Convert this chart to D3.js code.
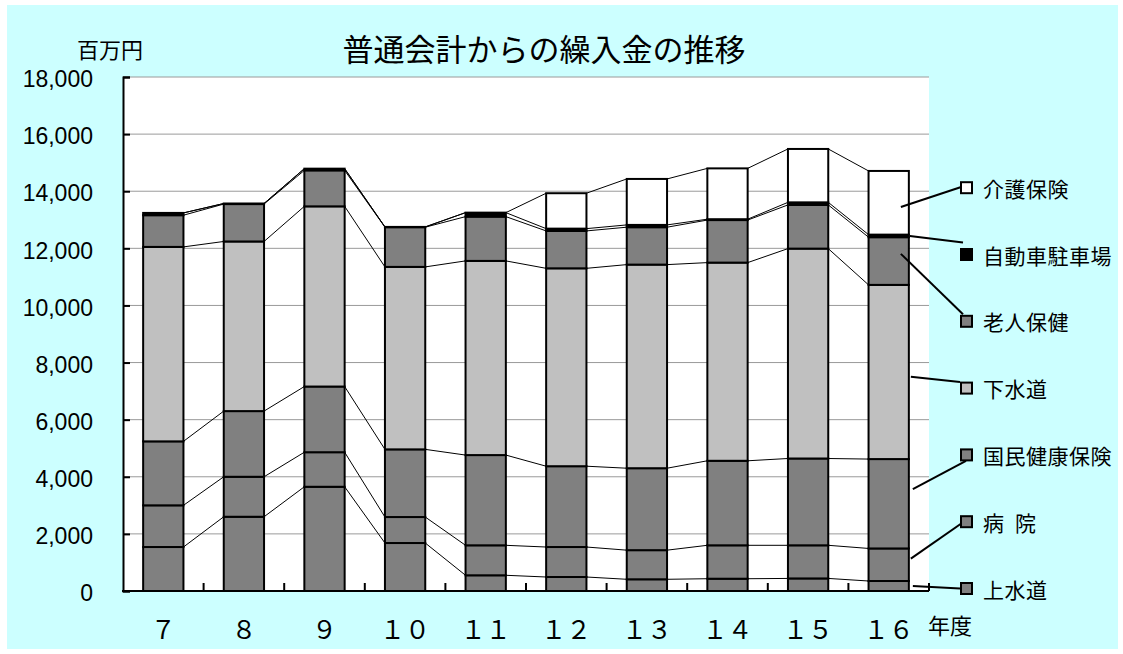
<!DOCTYPE html>
<html><head><meta charset="utf-8">
<script src="https://cdn.jsdelivr.net/npm/d3@7/dist/d3.min.js"></script>
<style>
html,body{margin:0;padding:0;background:#fff;}
svg{display:block;}
.jp{font-family:"Noto Sans CJK JP","Noto Sans",sans-serif;}
.num{font-family:"Liberation Sans",Arial,sans-serif;}
</style></head>
<body>
<svg id="chart" width="1123" height="654"></svg>
<script>
// ---- data ----
const categories = ["７","８","９","１０","１１","１２","１３","１４","１５","１６"];
const seriesNames = ["上水道","病  院","国民健康保険","下水道","老人保健","自動車駐車場","介護保険"];
const jousuidou   = [1540, 2600, 3650, 1680,  550,  490,  410,  430,  440,  350];
const byouin      = [1460, 1400, 1210,  910, 1050, 1050, 1020, 1170, 1160, 1140];
const kokuho      = [2240, 2300, 2300, 2370, 3160, 2830, 2870, 2960, 3040, 3130];
const gesuidou    = [6810, 5940, 6310, 6390, 6800, 6930, 7130, 6940, 7350, 6100];
const roujin      = [1110, 1310, 1260, 1390, 1550, 1310, 1310, 1490, 1530, 1670];
const chushajo    = [  80,   20,   60,   10,  140,   80,   80,   30,   90,   90];
const kaigo       = [   0,    0,    0,    0,    0, 1240, 1610, 1780, 1870, 2230];
const yTicks = [0,2000,4000,6000,8000,10000,12000,14000,16000,18000];
// leader-line anchor values on the last bar (value units)
const leaderValues = [175, 1136, 3566, 7503, 11806, 12436, 13450];

const seriesValues = [jousuidou, byouin, kokuho, gesuidou, roujin, chushajo, kaigo];
const fills = ["#808080","#808080","#808080","#c0c0c0","#808080","#000000","#ffffff"];

const svg = d3.select("#chart");
// background
svg.append("rect").attr("x",7).attr("y",5).attr("width",1111).attr("height",644).attr("fill","#ccffff");

const plot = {left:123, right:929, top:77, bottom:591};
const x = d3.scaleBand().domain(categories).range([plot.left, plot.right]).paddingInner(0.5).paddingOuter(0.25);
const y = d3.scaleLinear().domain([0,18000]).range([plot.bottom, plot.top]);
const step = x.step(), bw = x.bandwidth();

// plot area
svg.append("rect").attr("x",plot.left).attr("y",plot.top).attr("width",plot.right-plot.left).attr("height",plot.bottom-plot.top).attr("fill","#fff");

// gridlines
svg.append("g").selectAll("line").data(yTicks.filter(d=>d>0)).join("line")
  .attr("x1",plot.left).attr("x2",plot.right).attr("y1",d=>y(d)).attr("y2",d=>y(d))
  .attr("stroke","#9a9a9a").attr("stroke-width",1);

// stack
const rows = categories.map((c,i)=>{const o={cat:c}; seriesNames.forEach((s,j)=>o[s]=seriesValues[j][i]); return o;});
const stack = d3.stack().keys(seriesNames)(rows);

// series lines
const sl = svg.append("g");
stack.forEach(layer=>{
  for(let i=0;i<categories.length-1;i++){
    sl.append("line")
      .attr("x1",x(categories[i])+bw).attr("y1",y(layer[i][1]))
      .attr("x2",x(categories[i+1])).attr("y2",y(layer[i+1][1]))
      .attr("stroke","#000").attr("stroke-width",1);
  }
});

// bars
stack.forEach((layer,j)=>{
  svg.append("g").selectAll("rect").data(layer.filter(d=>d[1]-d[0]>0)).join("rect")
    .attr("x",d=>x(d.data.cat)).attr("width",bw)
    .attr("y",d=>y(d[1])).attr("height",d=>y(d[0])-y(d[1]))
    .attr("fill",fills[j]).attr("stroke","#000").attr("stroke-width",2);
});

// axes
const axY = svg.append("g").attr("transform",`translate(${plot.left},0)`)
  .call(d3.axisLeft(y).tickValues(yTicks).tickSize(-7).tickFormat(d3.format(",")).tickPadding(30));
axY.select(".domain").attr("stroke","#000").attr("stroke-width",2);
axY.selectAll(".tick line").attr("stroke","#000").attr("stroke-width",2);
axY.selectAll(".tick text").attr("class","num").attr("font-size",23).attr("fill","#000")
  .attr("x",-30).attr("dy","0.42em");

// x axis line + boundary ticks
svg.append("line").attr("x1",plot.left-1).attr("x2",plot.right).attr("y1",plot.bottom).attr("y2",plot.bottom)
  .attr("stroke","#000").attr("stroke-width",2);
svg.append("g").selectAll("line").data(d3.range(1,categories.length+1)).join("line")
  .attr("x1",k=>plot.left+k*step).attr("x2",k=>plot.left+k*step)
  .attr("y1",plot.bottom).attr("y2",plot.bottom-8).attr("stroke","#000").attr("stroke-width",2);

// x labels
svg.append("g").selectAll("text").data(categories).join("text")
  .attr("class","jp").attr("x",d=>x(d)+bw/2).attr("y",628)
  .attr("text-anchor","middle").attr("dominant-baseline","central")
  .attr("font-size",25).attr("fill","#000").text(d=>d);
svg.append("text").attr("class","jp").attr("x",928).attr("y",624).attr("dominant-baseline","central")
  .attr("font-size",22).attr("fill","#000").text("年度");

// title & unit
svg.append("text").attr("class","jp").attr("x",544).attr("y",47).attr("text-anchor","middle")
  .attr("dominant-baseline","central").attr("font-size",31).attr("fill","#000").text("普通会計からの繰入金の推移");
svg.append("text").attr("class","jp").attr("x",77).attr("y",48)
  .attr("dominant-baseline","central").attr("font-size",22).attr("fill","#000").text("百万円");

// legend (top to bottom: reversed series)
const legendOrder = d3.range(seriesNames.length).reverse();
const legY0 = 187.7, legStep = 66.8, mx = 961, ms = 11;
// leader line start/end
const lastCat = categories[categories.length-1];
const bx = x(lastCat);
const startX = [bx+bw+4, bx+bw+2, bx+bw+4, bx+bw+2, bx+bw-8, bx+bw+1, bx+bw-8];
const endOff = [[-1,0],[10,-5],[5,6],[-1,-6],[2,-7],[2,-12],[10,-4]];
const lg = svg.append("g");
legendOrder.forEach((j,r)=>{
  const cy = legY0 + r*legStep;
  lg.append("line").attr("x1",startX[j]).attr("y1",y(leaderValues[j]))
    .attr("x2",mx+endOff[j][0]).attr("y2",cy+endOff[j][1])
    .attr("stroke","#000").attr("stroke-width",2);
  lg.append("rect").attr("x",mx).attr("y",cy-ms/2).attr("width",ms).attr("height",ms)
    .attr("fill",fills[j]).attr("stroke","#000").attr("stroke-width",2);
  lg.append("text").attr("class","jp").attr("x",983).attr("y",cy).attr("dominant-baseline","central")
    .attr("font-size",21).attr("letter-spacing","0.5px").style("white-space","pre").attr("fill","#000")
    .text(seriesNames[j]);
});
</script>
</body></html>
